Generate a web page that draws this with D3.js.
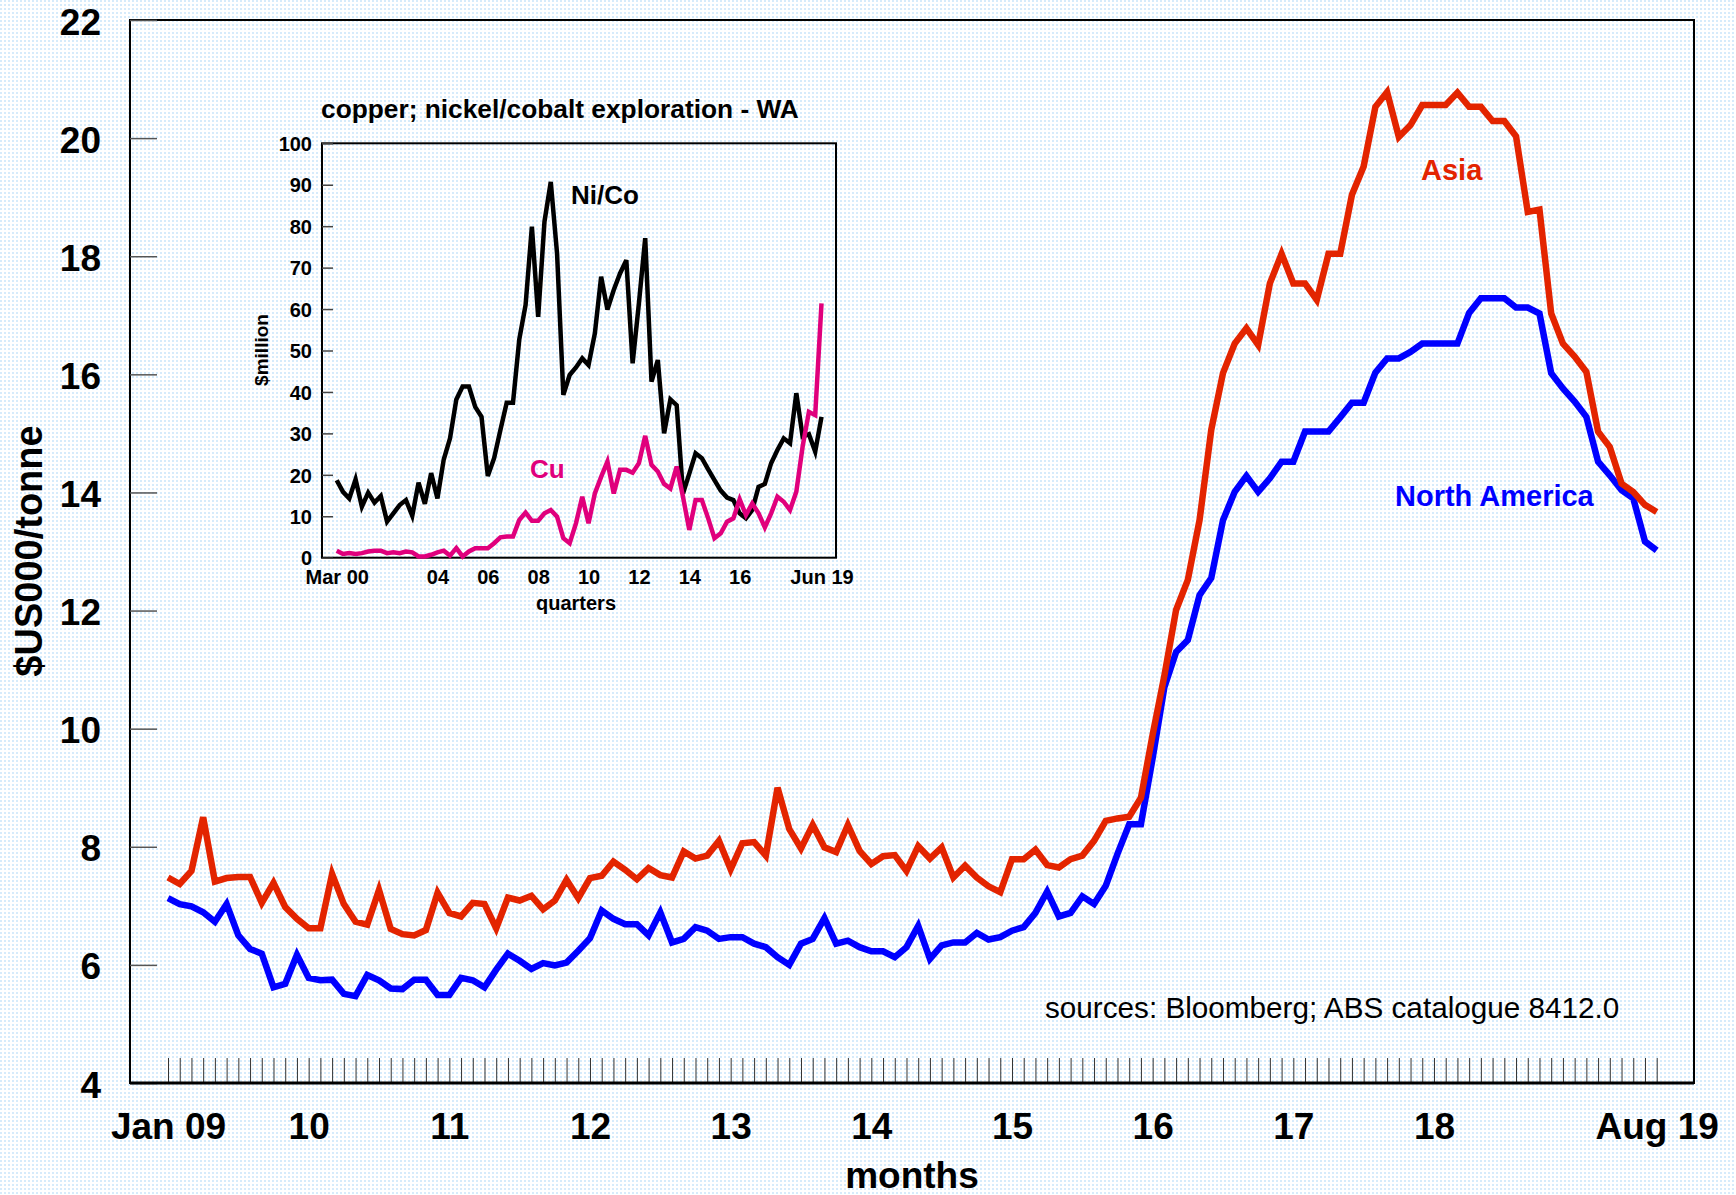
<!DOCTYPE html>
<html>
<head>
<meta charset="utf-8">
<script src="https://cdn.jsdelivr.net/npm/d3@7"></script>
<style>
  html, body { margin: 0; padding: 0; background: #fff; }
  svg text { font-family: "Liberation Sans", Arial, sans-serif; }
</style>
</head>
<body>
<script>
// monthly prices, Jan 2009 .. Aug 2019, $US000/tonne
const asia = [
  7.48, 7.37, 7.59, 8.50, 7.41, 7.47, 7.49, 7.49, 7.05, 7.39, 6.98, 6.78,
  6.62, 6.62, 7.54, 7.03, 6.73, 6.68, 7.27, 6.61, 6.52, 6.50, 6.59, 7.22,
  6.88, 6.82, 7.05, 7.03, 6.62, 7.14, 7.09, 7.17, 6.94, 7.09, 7.44, 7.13,
  7.47, 7.51, 7.75, 7.61, 7.45, 7.64, 7.52, 7.48, 7.92, 7.80, 7.85, 8.10,
  7.62, 8.06, 8.08, 7.85, 9.00, 8.30, 7.97, 8.37, 7.99, 7.91, 8.37, 7.93,
  7.71, 7.84, 7.86, 7.59, 8.01, 7.80, 7.99, 7.48, 7.68, 7.48, 7.33, 7.23,
  7.79, 7.79, 7.95, 7.69, 7.65, 7.79, 7.85, 8.10, 8.44, 8.48, 8.51, 8.83,
  9.90, 10.90, 12.01, 12.52, 13.53, 15.06, 16.02, 16.52, 16.78, 16.50, 17.54, 18.04,
  17.54, 17.54, 17.26, 18.04, 18.04, 19.04, 19.52, 20.53, 20.78, 20.02, 20.22, 20.56,
  20.56, 20.56, 20.77, 20.53, 20.53, 20.29, 20.29, 20.03, 18.75, 18.79, 17.03, 16.52,
  16.30, 16.04, 15.03, 14.77, 14.15, 14.01, 13.79, 13.67
];
const northAmerica = [
  7.13, 7.03, 6.99, 6.89, 6.73, 7.03, 6.50, 6.27, 6.19, 5.62, 5.68, 6.17,
  5.78, 5.74, 5.75, 5.51, 5.47, 5.83, 5.74, 5.60, 5.59, 5.75, 5.75, 5.49,
  5.49, 5.78, 5.74, 5.62, 5.92, 6.19, 6.07, 5.93, 6.03, 5.99, 6.04, 6.24,
  6.45, 6.92, 6.78, 6.69, 6.69, 6.50, 6.89, 6.38, 6.44, 6.64, 6.58, 6.44,
  6.47, 6.47, 6.36, 6.30, 6.13, 6.00, 6.36, 6.44, 6.79, 6.36, 6.41, 6.30,
  6.23, 6.23, 6.13, 6.30, 6.66, 6.10, 6.33, 6.38, 6.38, 6.54, 6.43, 6.47,
  6.58, 6.64, 6.88, 7.24, 6.82, 6.88, 7.16, 7.03, 7.34, 7.88, 8.38, 8.38,
  9.50, 10.70, 11.30, 11.50, 12.26, 12.55, 13.53, 14.01, 14.28, 14.01, 14.24, 14.52,
  14.52, 15.03, 15.03, 15.03, 15.27, 15.52, 15.52, 16.03, 16.27, 16.27, 16.38, 16.52,
  16.52, 16.52, 16.52, 17.04, 17.29, 17.29, 17.29, 17.13, 17.13, 17.03, 16.02, 15.76,
  15.54, 15.28, 14.52, 14.29, 14.04, 13.90, 13.17, 13.02
];
const yTicks = [4, 6, 8, 10, 12, 14, 16, 18, 20, 22];
const monthLabelIdx = [0, 12, 24, 36, 48, 60, 72, 84, 96, 108, 127];
const monthLabels = ['Jan 09', '10', '11', '12', '13', '14', '15', '16', '17', '18', 'Aug 19'];

// inset: quarterly exploration spend WA, Mar 2000 .. Jun 2019, $million
const niCo = [
  18.7, 15.9, 14.3, 18.9, 12.3, 15.7, 13.3, 14.9, 8.7, 10.7,
  12.7, 13.9, 10.1, 18.1, 13.0, 20.4, 14.3, 23.7, 28.8, 38.2,
  41.3, 41.3, 36.4, 34.0, 19.7, 24.0, 30.8, 37.4, 37.4, 52.7,
  61.0, 79.9, 58.1, 81.1, 90.7, 73.4, 39.3, 44.1, 45.9, 48.1,
  46.5, 54.1, 67.8, 59.9, 64.6, 68.6, 71.8, 46.9, 61.4, 77.1,
  42.5, 47.7, 30.0, 38.2, 36.8, 15.5, 20.3, 25.2, 24.0, 21.3,
  18.7, 16.2, 14.5, 13.9, 10.7, 9.5, 11.5, 17.1, 17.8, 22.8,
  26.0, 28.8, 27.6, 39.7, 29.2, 29.8, 25.6, 34.0
];
const cu = [
  1.7, 0.9, 1.1, 0.9, 1.1, 1.5, 1.7, 1.7, 1.1, 1.3,
  1.1, 1.5, 1.3, 0.3, 0.3, 0.7, 1.3, 1.7, 0.5, 2.3,
  0.3, 1.5, 2.3, 2.3, 2.3, 3.5, 4.9, 5.1, 5.1, 9.1,
  10.9, 8.9, 8.9, 10.7, 11.5, 9.9, 4.7, 3.5, 8.3, 14.7,
  8.3, 15.5, 19.5, 23.2, 15.5, 21.2, 21.2, 20.5, 22.8, 29.4,
  22.4, 20.8, 17.8, 16.7, 22.0, 14.7, 6.7, 13.9, 13.9, 9.5,
  4.7, 5.9, 8.7, 9.5, 14.1, 10.3, 13.1, 10.7, 7.3, 10.7,
  14.7, 13.5, 11.5, 15.9, 26.8, 35.2, 34.4, 61.4
];
const insetYTicks = [0, 10, 20, 30, 40, 50, 60, 70, 80, 90, 100];
const quarterLabelIdx = [0, 16, 24, 32, 40, 48, 56, 64, 77];
const quarterLabels = ['Mar 00', '04', '06', '08', '10', '12', '14', '16', 'Jun 19'];

const W = 1736, H = 1195;
const RED = '#e32400', BLUE = '#0000ff', MAGENTA = '#e0007c';

const svg = d3.select('body').append('svg')
  .attr('width', W).attr('height', H);

// dotted pale blue background
const pat = svg.append('defs').append('pattern')
  .attr('id', 'dots').attr('patternUnits', 'userSpaceOnUse')
  .attr('width', 4).attr('height', 4);
pat.append('rect').attr('width', 4).attr('height', 4).attr('fill', '#ffffff');
pat.append('rect').attr('width', 2).attr('height', 2).attr('fill', '#d6ebfb');
svg.append('rect').attr('width', W).attr('height', H).attr('fill', 'url(#dots)');

// ---- main chart ----
const x = d3.scaleLinear().domain([0, asia.length - 1]).range([168, 1656.7]);
const y = d3.scaleLinear().domain([4, 22]).range([1083, 20]);

svg.append('rect')
  .attr('x', 130).attr('y', 20).attr('width', 1564).attr('height', 1063)
  .attr('fill', 'none').attr('stroke', '#000').attr('stroke-width', 2);

const yAxis = svg.append('g')
  .attr('transform', 'translate(130,0)')
  .call(d3.axisLeft(y).tickValues(yTicks).tickSize(-27).tickPadding(29));
yAxis.select('.domain').remove();
yAxis.selectAll('line').attr('stroke', '#555').attr('stroke-width', 1.5);
yAxis.selectAll('text')
  .attr('font-size', 37).attr('font-weight', 'bold').attr('fill', '#000')
  .attr('dy', '0.38em');

// one minor tick per month
const minor = svg.append('g')
  .attr('transform', 'translate(0,1083)')
  .call(d3.axisBottom(x).tickValues(d3.range(asia.length)).tickSize(-25).tickFormat(''));
minor.select('.domain').remove();
minor.selectAll('line').attr('stroke', '#333').attr('stroke-width', 1);

svg.append('line')
  .attr('x1', 130).attr('x2', 1694).attr('y1', 1083).attr('y2', 1083)
  .attr('stroke', '#000').attr('stroke-width', 3);

const xAxis = svg.append('g')
  .attr('transform', 'translate(0,1083)')
  .call(d3.axisBottom(x).tickValues(monthLabelIdx).tickSize(0).tickPadding(30)
    .tickFormat((d, i) => monthLabels[i]));
xAxis.select('.domain').remove();
xAxis.selectAll('text')
  .attr('font-size', 37).attr('font-weight', 'bold').attr('fill', '#000');

svg.append('text')
  .attr('x', 912).attr('y', 1188).attr('text-anchor', 'middle')
  .attr('font-size', 37).attr('font-weight', 'bold')
  .text('months');

svg.append('text')
  .attr('transform', 'translate(29,551) rotate(-90)')
  .attr('text-anchor', 'middle').attr('dominant-baseline', 'central')
  .attr('font-size', 38).attr('font-weight', 'bold')
  .text('$US000/tonne');

const mainLine = d3.line().x((d, i) => x(i)).y(d => y(d));
svg.append('path').datum(northAmerica)
  .attr('d', mainLine).attr('fill', 'none')
  .attr('stroke', BLUE).attr('stroke-width', 6.5);
svg.append('path').datum(asia)
  .attr('d', mainLine).attr('fill', 'none')
  .attr('stroke', RED).attr('stroke-width', 6.5);

svg.append('text')
  .attr('x', 1421).attr('y', 180)
  .attr('font-size', 29).attr('font-weight', 'bold').attr('fill', RED)
  .text('Asia');
svg.append('text')
  .attr('x', 1395).attr('y', 506)
  .attr('font-size', 29).attr('font-weight', 'bold').attr('fill', BLUE)
  .text('North America');

svg.append('text')
  .attr('x', 1045).attr('y', 1018)
  .attr('font-size', 29.7).attr('fill', '#000')
  .text('sources: Bloomberg; ABS catalogue 8412.0');

// ---- inset ----
const xi = d3.scaleLinear().domain([0, niCo.length - 1]).range([336.7, 821.5]);
const yi = d3.scaleLinear().domain([0, 100]).range([557.7, 143.3]);

svg.append('text')
  .attr('x', 321).attr('y', 118)
  .attr('font-size', 26.3).attr('font-weight', 'bold')
  .text('copper; nickel/cobalt exploration - WA');

svg.append('rect')
  .attr('x', 322).attr('y', 143.3).attr('width', 514).attr('height', 414.4)
  .attr('fill', 'none').attr('stroke', '#000').attr('stroke-width', 2);

const yiAxis = svg.append('g')
  .attr('transform', 'translate(322,0)')
  .call(d3.axisLeft(yi).tickValues(insetYTicks).tickSize(-11).tickPadding(10));
yiAxis.select('.domain').remove();
yiAxis.selectAll('line').attr('stroke', '#444').attr('stroke-width', 1.5);
yiAxis.selectAll('text')
  .attr('font-size', 20).attr('font-weight', 'bold').attr('fill', '#000')
  .attr('dy', '0.36em');

const xiAxis = svg.append('g')
  .attr('transform', 'translate(0,557.7)')
  .call(d3.axisBottom(xi).tickValues(quarterLabelIdx).tickSize(0).tickPadding(12)
    .tickFormat((d, i) => quarterLabels[i]));
xiAxis.select('.domain').remove();
xiAxis.selectAll('text')
  .attr('font-size', 20).attr('font-weight', 'bold').attr('fill', '#000');

svg.append('text')
  .attr('x', 576).attr('y', 610).attr('text-anchor', 'middle')
  .attr('font-size', 20).attr('font-weight', 'bold')
  .text('quarters');

svg.append('text')
  .attr('transform', 'translate(261,350) rotate(-90)')
  .attr('text-anchor', 'middle').attr('dominant-baseline', 'central')
  .attr('font-size', 19).attr('font-weight', 'bold')
  .text('$million');

const insetLine = d3.line().x((d, i) => xi(i)).y(d => yi(d));
svg.append('path').datum(niCo)
  .attr('d', insetLine).attr('fill', 'none')
  .attr('stroke', '#000').attr('stroke-width', 4.5);
svg.append('path').datum(cu)
  .attr('d', insetLine).attr('fill', 'none')
  .attr('stroke', MAGENTA).attr('stroke-width', 4.5);

svg.append('text')
  .attr('x', 571).attr('y', 204)
  .attr('font-size', 26).attr('font-weight', 'bold')
  .text('Ni/Co');
svg.append('text')
  .attr('x', 530).attr('y', 478)
  .attr('font-size', 26).attr('font-weight', 'bold').attr('fill', MAGENTA)
  .text('Cu');
</script>
</body>
</html>
